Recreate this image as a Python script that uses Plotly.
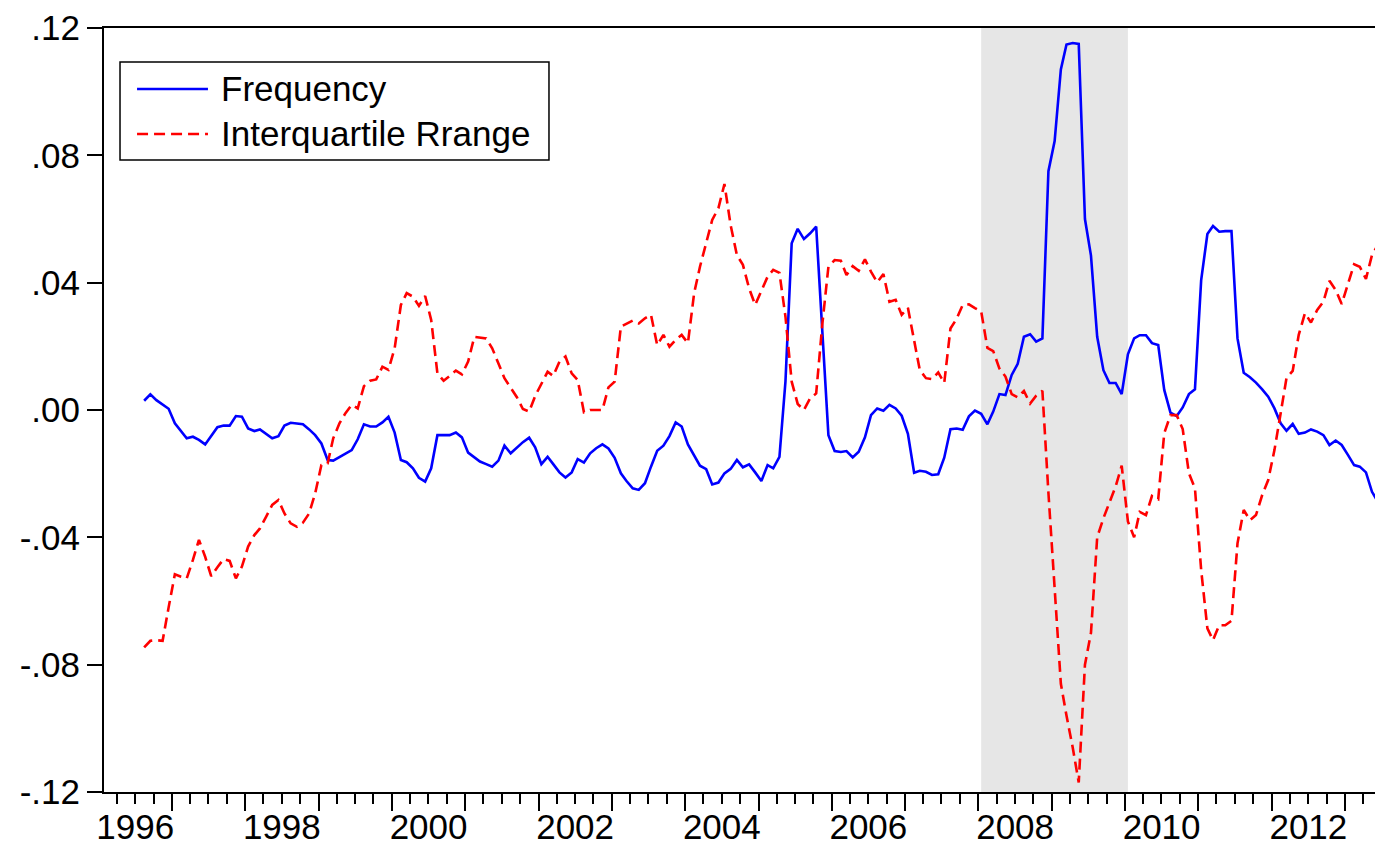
import plotly.graph_objects as go
import pandas as pd

# ---------------- data (monthly, first observation 1996m8) ----------------
first_month = "1996-08-01"

frequency = [
    0.0029, 0.0049, 0.0031, 0.0018, 0.0004, -0.0042, -0.0068, -0.0089, -0.0084, -0.0094,
    -0.0108, -0.0082, -0.0054, -0.0049, -0.0049, -0.0019, -0.0021, -0.0058, -0.0066, -0.0061,
    -0.0075, -0.0089, -0.0082, -0.0049, -0.0040, -0.0042, -0.0045, -0.0061, -0.0079, -0.0105,
    -0.0157, -0.0159, -0.0147, -0.0136, -0.0126, -0.0092, -0.0045, -0.0052, -0.0052, -0.0039,
    -0.0021, -0.0071, -0.0157, -0.0164, -0.0183, -0.0213, -0.0225, -0.0183, -0.0079, -0.0079,
    -0.0079, -0.0071, -0.0086, -0.0134, -0.0150, -0.0162, -0.0170, -0.0178, -0.0159, -0.0112,
    -0.0136, -0.0117, -0.0101, -0.0087, -0.0117, -0.0170, -0.0147, -0.0170, -0.0196, -0.0212,
    -0.0196, -0.0154, -0.0165, -0.0136, -0.0120, -0.0108, -0.0121, -0.0150, -0.0199, -0.0223,
    -0.0246, -0.0251, -0.0230, -0.0178, -0.0128, -0.0112, -0.0082, -0.0039, -0.0052, -0.0108,
    -0.0141, -0.0175, -0.0186, -0.0234, -0.0228, -0.0199, -0.0185, -0.0157, -0.0180, -0.0171,
    -0.0196, -0.0223, -0.0173, -0.0183, -0.0147, 0.0090, 0.0524, 0.0569, 0.0537, 0.0555,
    0.0576, 0.0260, -0.0079, -0.0129, -0.0132, -0.0129, -0.0149, -0.0131, -0.0086, -0.0016,
    0.0005, -0.0002, 0.0016, 0.0005, -0.0018, -0.0075, -0.0197, -0.0191, -0.0194, -0.0204,
    -0.0202, -0.0150, -0.0060, -0.0058, -0.0062, -0.0020, -0.0002, -0.0012, -0.0045, -0.0005,
    0.0050, 0.0047, 0.0110, 0.0145, 0.0230, 0.0238, 0.0215, 0.0225, 0.0750, 0.0845,
    0.1070, 0.1148, 0.1153, 0.1150, 0.0600, 0.0485, 0.0230, 0.0125, 0.0085, 0.0085,
    0.0050, 0.0175, 0.0225, 0.0235, 0.0235, 0.0210, 0.0204, 0.0063, -0.0008, -0.0019,
    0.0008, 0.0050, 0.0065, 0.0408, 0.0553, 0.0578, 0.0560, 0.0562, 0.0562, 0.0225,
    0.0117, 0.0103, 0.0086, 0.0065, 0.0042, 0.0005, -0.0042, -0.0065, -0.0044, -0.0075,
    -0.0071, -0.0061, -0.0068, -0.0079, -0.0110, -0.0096, -0.0110, -0.0141, -0.0173, -0.0178,
    -0.0196, -0.0257, -0.0290,
]

interquartile_range = [
    -0.0746, -0.0725, -0.0723, -0.0725, -0.0620, -0.0516, -0.0524, -0.0529, -0.0471, -0.0408,
    -0.0461, -0.0522, -0.0494, -0.0468, -0.0474, -0.0529, -0.0492, -0.0429, -0.0393, -0.0372,
    -0.0335, -0.0298, -0.0283, -0.0325, -0.0356, -0.0367, -0.0354, -0.0325, -0.0262, -0.0173,
    -0.0168, -0.0089, -0.0042, -0.0010, 0.0016, 0.0005, 0.0075, 0.0092, 0.0096, 0.0136,
    0.0126, 0.0194, 0.0330, 0.0367, 0.0356, 0.0327, 0.0358, 0.0283, 0.0115, 0.0092,
    0.0107, 0.0124, 0.0112, 0.0152, 0.0230, 0.0227, 0.0225, 0.0194, 0.0145, 0.0100,
    0.0070, 0.0040, 0.0003, -0.0005, 0.0044, 0.0084, 0.0120, 0.0107, 0.0152, 0.0168,
    0.0115, 0.0094, -0.0007, 0.0000, 0.0000, 0.0000, 0.0071, 0.0089, 0.0262, 0.0272,
    0.0281, 0.0272, 0.0288, 0.0299, 0.0204, 0.0236, 0.0199, 0.0220, 0.0236, 0.0210,
    0.0367, 0.0450, 0.0529, 0.0597, 0.0634, 0.0710, 0.0580, 0.0487, 0.0456, 0.0382,
    0.0330, 0.0377, 0.0419, 0.0440, 0.0431, 0.0293, 0.0089, 0.0019, 0.0000, 0.0037,
    0.0052, 0.0272, 0.0450, 0.0471, 0.0469, 0.0424, 0.0452, 0.0437, 0.0473, 0.0435,
    0.0401, 0.0427, 0.0340, 0.0346, 0.0299, 0.0321, 0.0215, 0.0126, 0.0100, 0.0097,
    0.0118, 0.0085, 0.0256, 0.0287, 0.0330, 0.0332, 0.0320, 0.0310, 0.0195, 0.0185,
    0.0130, 0.0105, 0.0050, 0.0040, 0.0060, 0.0020, 0.0045, 0.0060, -0.0260, -0.0560,
    -0.0860, -0.0960, -0.1060, -0.1170, -0.0800, -0.0700, -0.0400, -0.0340, -0.0290, -0.0240,
    -0.0175, -0.0350, -0.0400, -0.0320, -0.0330, -0.0270, -0.0280, -0.0073, -0.0016, -0.0016,
    -0.0060, -0.0199, -0.0246, -0.0503, -0.0686, -0.0723, -0.0676, -0.0676, -0.0662, -0.0419,
    -0.0314, -0.0346, -0.0330, -0.0267, -0.0220, -0.0126, -0.0010, 0.0100, 0.0123, 0.0236,
    0.0304, 0.0275, 0.0314, 0.0340, 0.0406, 0.0377, 0.0333, 0.0398, 0.0458, 0.0450,
    0.0412, 0.0487, 0.0520,
]

series_names = ["Frequency", "Interquartile Rrange"]

y_tick_values = [-0.12, -0.08, -0.04, 0.0, 0.04, 0.08, 0.12]
y_tick_labels = ["-.12", "-.08", "-.04", ".00", ".04", ".08", ".12"]

label_years = [1996, 1998, 2000, 2002, 2004, 2006, 2008, 2010, 2012]
tick_years = list(range(1996, 2014))

shade_start = "2008-01-15"
shade_end = "2010-01-15"

x_range = ["1996-01-28", "2013-05-30"]

# ---------------- figure ----------------
dates = pd.date_range(first_month, periods=len(frequency), freq="MS") + pd.Timedelta(days=14)

FONT = "Liberation Sans, Arial, sans-serif"
FS = 35
LW = 2.6

fig = go.Figure()
fig.add_trace(go.Scatter(x=dates, y=frequency, mode="lines", name=series_names[0],
                         line=dict(color="#0000FF", width=LW), showlegend=False))
fig.add_trace(go.Scatter(x=dates, y=interquartile_range, mode="lines", name=series_names[1],
                         line=dict(color="#FF0000", width=LW, dash="11px,6px"), showlegend=False))

# shaded period
fig.add_shape(type="rect", xref="x", yref="paper", x0=shade_start, x1=shade_end, y0=0, y1=1,
              fillcolor="#E6E6E6", line=dict(width=0), layer="below")

# legend (box, line samples, labels)
fig.add_shape(type="rect", xref="paper", yref="paper", x0=0.0126, x1=0.3501, y0=0.8272, y1=0.9555,
              fillcolor="white", line=dict(color="black", width=1.5), layer="above")
fig.add_shape(type="line", xref="paper", yref="paper", x0=0.0260, x1=0.0818, y0=0.9202, y1=0.9202,
              line=dict(color="#0000FF", width=LW), layer="above")
fig.add_shape(type="line", xref="paper", yref="paper", x0=0.0260, x1=0.0818, y0=0.8613, y1=0.8613,
              line=dict(color="#FF0000", width=LW, dash="11px,6px"), layer="above")
fig.add_annotation(xref="paper", yref="paper", x=0.0905, y=0.9202, text=series_names[0],
                   showarrow=False, xanchor="left", yanchor="middle",
                   font=dict(family=FONT, size=FS, color="black"))
fig.add_annotation(xref="paper", yref="paper", x=0.0905, y=0.8613, text=series_names[1],
                   showarrow=False, xanchor="left", yanchor="middle",
                   font=dict(family=FONT, size=FS, color="black"))

fig.update_layout(
    template="none",
    width=1375, height=852,
    margin=dict(l=104, r=0, t=28, b=60, autoexpand=False),
    paper_bgcolor="white", plot_bgcolor="white",
    font=dict(family=FONT, size=FS, color="black"),
    showlegend=False,
    xaxis=dict(
        type="date", range=x_range, automargin=False,
        tickmode="array", tickvals=[f"{y}-01-01" for y in tick_years],
        showticklabels=False,
        ticks="outside", ticklen=17, tickwidth=1.5, tickcolor="black",
        minor=dict(ticks="outside", ticklen=10, tickwidth=1.5, tickcolor="black",
                   dtick="M3", tick0="1996-01-01", showgrid=False),
        showline=True, linecolor="black", linewidth=2, mirror=True,
        showgrid=False, zeroline=False,
    ),
    xaxis2=dict(
        type="date", range=x_range, overlaying="x", anchor="y", side="bottom", automargin=False,
        tickmode="array", tickvals=[f"{y}-07-02" for y in label_years],
        ticktext=[str(y) for y in label_years],
        ticks="outside", ticklen=4, tickcolor="rgba(0,0,0,0)",
        tickfont=dict(family=FONT, size=FS, color="black"),
        showline=False, showgrid=False, zeroline=False,
    ),
    yaxis=dict(
        range=[-0.12, 0.12], automargin=False,
        tickmode="array", tickvals=y_tick_values, ticktext=y_tick_labels,
        ticks="outside", ticklen=15, tickwidth=1.5, tickcolor="black",
        tickfont=dict(family=FONT, size=FS, color="black"),
        showline=True, linecolor="black", linewidth=2, mirror=False,
        showgrid=False, zeroline=False,
    ),
)

# invisible helper so the label axis is rendered
fig.add_trace(go.Scatter(x=[dates[0]], y=[0], xaxis="x2", mode="markers",
                         marker=dict(opacity=0), hoverinfo="skip", showlegend=False))

fig.write_html(
    "out.html",
    config={"displayModeBar": False},
    post_script="document.body.style.margin='0';document.body.style.padding='0';"
                "document.documentElement.style.overflow='hidden';",
)
